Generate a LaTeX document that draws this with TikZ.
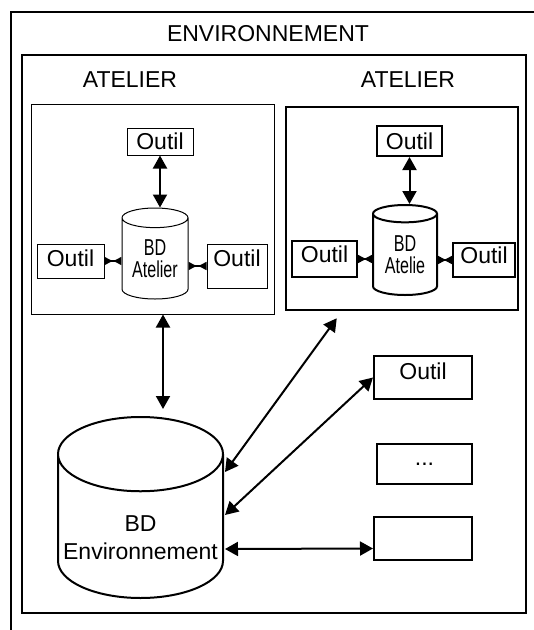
\documentclass[tikz,border=0pt]{standalone}
\usepackage{fontspec}
\setmainfont{Liberation Sans}
\usepackage{graphicx}
\usetikzlibrary{arrows.meta,calc,shapes.geometric}
\tikzset{
    frame/.style = {
        draw,
        line width=2.5pt,
        },
    frame thin/.style = {
        draw,
        line width=1pt,
        },
    outil/.style = {
        draw,
        line width=2pt,
        inner sep=0pt,
        },
    outil thin/.style = {
        draw,
        line width=1pt,
        inner sep=0pt,
        },
    bd/.style = {
        draw,
        cylinder,
        shape border rotate=90,
        anchor=shape center,
        inner sep=0pt,
        align=center,
        },
    etiquette/.style = {
        inner sep=0pt,
        },
    link/.style = {
        {Triangle[length=13pt,width=14pt]}-{Triangle[length=13pt,width=14pt]},
        line width=2pt,
        },
    link small/.style = {
        {Triangle[reversed,length=8pt,width=8pt]}-{Triangle[reversed,length=8pt,width=8pt]},
        line width=1.5pt,
        },
}
\newcommand{\serre}[1]{\scalebox{0.7}[1]{#1}}

\begin{document}
\begin{tikzpicture}[x=1pt, y=-1pt, font=\fontsize{23}{26}\selectfont]
    \useasboundingbox (0,0) rectangle (534,630);
    % cadres
    \draw[frame] (11,12) rectangle (560,660);
    \draw[frame] (22,55) rectangle (526,613);
    \node[etiquette] (env) at (268,34) {ENVIRONNEMENT};
    \node[etiquette] (atg) at (130,80) {ATELIER};
    \node[etiquette] (atd) at (408,80) {ATELIER};

    % atelier gauche
    \node[frame thin, minimum width=243, minimum height=210] (atl) at (152.5,209) {};
    \node[outil thin, minimum width=66, minimum height=27] (lt) at (160,141.5) {Outil};
    \node[outil thin, minimum width=67, minimum height=34, text depth=5pt] (ll) at (70.5,261) {Outil};
    \node[outil thin, minimum width=60, minimum height=44, text depth=15pt] (lr) at (237,266) {Outil};
    \node[bd, line width=1pt, minimum width=66, minimum height=91, aspect=0.43,
          font=\fontsize{23}{22}\selectfont] (ldb) at (155,253.5) {\serre{BD}\\\serre{Atelier}};

    \draw[link] (lt.south) -- (lt.south |- ldb.north);
    \draw[link small] (ll.east) -- (ll.east -| ldb.west);
    \draw[link small] (lr.west) -- (lr.west -| ldb.east);

    % atelier droit
    \node[frame, minimum width=232, minimum height=203] (atr) at (402,208.5) {};
    \node[outil, minimum width=65, minimum height=30] (rt) at (409.5,141) {Outil};
    \node[outil, minimum width=65, minimum height=36, text depth=9pt] (rl) at (324.5,259) {Outil};
    \node[outil, minimum width=62, minimum height=34, text depth=10pt] (rr) at (484,260) {Outil};
    \node[bd, line width=2pt, minimum width=64, minimum height=90, aspect=0.43,
          font=\fontsize{23}{22}\selectfont] (rdb) at (405,250) {\serre{BD}\\\serre{Atelie}};

    \draw[link] (rt.south) -- (rt.south |- rdb.north);
    \draw[link small] (rl.east) -- (rl.east -| rdb.west);
    \draw[link small] (rr.west) -- (rr.west -| rdb.east);

    % base environnement et outils
    \node[bd, line width=2pt, minimum width=165, minimum height=181, aspect=0.48,
          font=\fontsize{23}{28}\selectfont] (edb) at (140.5,507.5)
          {\raisebox{-13pt}[\height][\depth]{\begin{tabular}{@{}c@{}}BD\\Environnement\end{tabular}}};
    \node[outil, minimum width=98, minimum height=43, text depth=12pt] (ot) at (423,377.5) {Outil};
    \node[outil, minimum width=95, minimum height=40] (dots) at (424.5,464) {...};
    \node[outil, minimum width=98, minimum height=43] (blk) at (423,538.5) {};

    \coordinate (p) at ($(atl.south)+(10.5,0)$);
    \draw[link, shorten >=7pt] (p) -- (p |- edb.north);
    \draw[link] ($(atr.south west)+(52,7)$) -- ($(edb.shape center)+(84.5,-35.5)$);
    \draw[link] ($(edb.shape center)+(84.5,7.5)$) -- (ot.west);
    \draw[link] ($(edb.shape center)+(84.5,41.5)$) -- ($(blk.west)+(0,10)$);
\end{tikzpicture}
\end{document}
